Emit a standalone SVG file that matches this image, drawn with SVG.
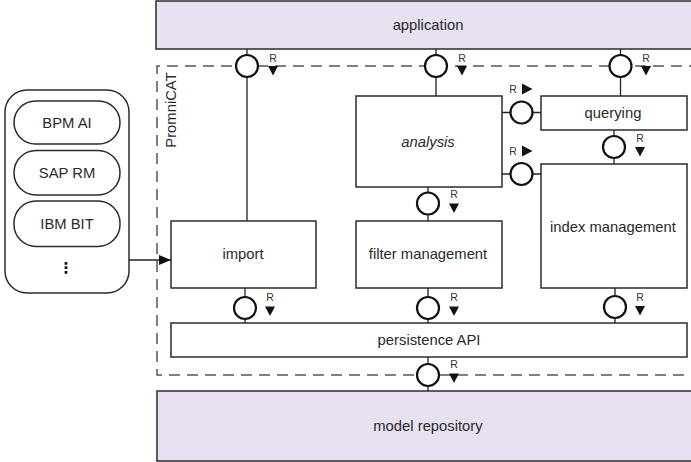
<svg xmlns="http://www.w3.org/2000/svg" xmlns:xlink="http://www.w3.org/1999/xlink" width="691" height="462" viewBox="0 0 691 462">
  <style>
    .box { fill: #ffffff; stroke: #2b2b2b; stroke-width: 1.5; }
    .ext { fill: #e6e0f0; stroke: #2b2b2b; stroke-width: 1.5; }
    .lbl { font-family: "Liberation Sans", Arial, sans-serif; font-size: 14.8px; fill: #2a2a2a; text-anchor: middle; dominant-baseline: central; }
    .r { font-family: "Liberation Sans", Arial, sans-serif; font-size: 10.5px; fill: #333333; text-anchor: middle; dominant-baseline: central; }
    .wire { stroke: #222222; stroke-width: 1.3; fill: none; }
    .port { fill: #ffffff; stroke: #111111; stroke-width: 2.2; }
    .tri { fill: #111111; }
    .frame { fill: none; stroke: #555555; stroke-width: 1.5; stroke-dasharray: 11 7; }
  </style>
  <defs>
    <polygon id="tdown" class="tri" points="-5,-4.5 5,-4.5 0,5"/>
    <polygon id="tright" class="tri" points="-5,-5.5 -5,5.5 5.5,0"/>
    <marker id="arrow" viewBox="0 0 12 10" refX="12" refY="5" markerWidth="12" markerHeight="10" markerUnits="userSpaceOnUse" orient="auto">
      <path d="M0,0 L12,5 L0,10 Z" fill="#111111"/>
    </marker>
  </defs>

  <!-- outer systems -->
  <g id="application">
    <rect class="ext" x="156" y="1" width="545" height="48"/>
    <text class="lbl" x="428" y="25">application</text>
  </g>
  <g id="model-repository">
    <rect class="ext" x="157" y="391" width="545" height="70"/>
    <text class="lbl" x="428" y="426">model repository</text>
  </g>

  <!-- PromniCAT boundary -->
  <g id="promnicat">
    <path class="frame" d="M700,66 H157 V375 H700"/>
    <text class="lbl" transform="translate(171,110) rotate(-90)">PromniCAT</text>
  </g>

  <!-- source tools -->
  <g id="sources">
    <rect class="box" x="5" y="90" width="124" height="203" rx="22" ry="22"/>
    <g id="bpm-ai">
      <rect class="box" x="14" y="101" width="106" height="43" rx="21.5" ry="21.5"/>
      <text class="lbl" x="67" y="122.5">BPM AI</text>
    </g>
    <g id="sap-rm">
      <rect class="box" x="14" y="150.5" width="106" height="44.5" rx="22" ry="22"/>
      <text class="lbl" x="67" y="173">SAP RM</text>
    </g>
    <g id="ibm-bit">
      <rect class="box" x="14" y="201" width="106" height="45.5" rx="22" ry="22"/>
      <text class="lbl" x="67" y="224">IBM BIT</text>
    </g>
    <text x="66" y="268" font-family="DejaVu Sans, sans-serif" font-size="15" font-weight="bold" fill="#111111" text-anchor="middle" dominant-baseline="central">⋮</text>
  </g>

  <!-- components -->
  <g id="import">
    <rect class="box" x="171" y="221" width="145" height="67"/>
    <text class="lbl" x="243" y="254">import</text>
  </g>
  <g id="analysis">
    <rect class="box" x="356" y="96" width="146" height="91"/>
    <text class="lbl" x="428" y="141.5" font-style="italic">analysis</text>
  </g>
  <g id="filter-management">
    <rect class="box" x="356" y="221" width="146" height="67"/>
    <text class="lbl" x="428" y="254">filter management</text>
  </g>
  <g id="querying">
    <rect class="box" x="541" y="96" width="146" height="34"/>
    <text class="lbl" x="613" y="112.5">querying</text>
  </g>
  <g id="index-management">
    <rect class="box" x="541" y="164" width="146" height="124"/>
    <text class="lbl" x="613" y="226.5">index management</text>
  </g>
  <g id="persistence-api">
    <rect class="box" x="171" y="323" width="516" height="34"/>
    <text class="lbl" x="429" y="340">persistence API</text>
  </g>

  <!-- connectors: required interfaces (ball + R arrow) -->
  <g id="connectors">
    <!-- sources to import -->
    <line class="wire" x1="129" y1="260" x2="171" y2="260" marker-end="url(#arrow)"/>

    <!-- application to import / analysis / querying -->
    <line class="wire" x1="247" y1="49" x2="247" y2="221"/>
    <circle class="port" cx="247" cy="66" r="11"/>
    <text class="r" x="273" y="57.5">R</text>
    <use xlink:href="#tdown" x="273" y="70.5"/>

    <line class="wire" x1="436" y1="49" x2="436" y2="96"/>
    <circle class="port" cx="436" cy="66" r="11"/>
    <text class="r" x="462" y="57.5">R</text>
    <use xlink:href="#tdown" x="462" y="70.5"/>

    <line class="wire" x1="620.5" y1="49" x2="620.5" y2="96"/>
    <circle class="port" cx="620.5" cy="66" r="11"/>
    <text class="r" x="646" y="57.5">R</text>
    <use xlink:href="#tdown" x="646" y="70.5"/>

    <!-- analysis to querying / index management -->
    <line class="wire" x1="502" y1="112.5" x2="541" y2="112.5"/>
    <circle class="port" cx="521.5" cy="112.5" r="11"/>
    <text class="r" x="513" y="88.5">R</text>
    <use xlink:href="#tright" x="527" y="89"/>

    <line class="wire" x1="502" y1="174" x2="541" y2="174"/>
    <circle class="port" cx="521.5" cy="174" r="11"/>
    <text class="r" x="513" y="150.5">R</text>
    <use xlink:href="#tright" x="527" y="151"/>

    <!-- querying to index management -->
    <line class="wire" x1="614" y1="130" x2="614" y2="164"/>
    <circle class="port" cx="614" cy="147" r="11"/>
    <text class="r" x="640" y="137.5">R</text>
    <use xlink:href="#tdown" x="640" y="151.5"/>

    <!-- analysis to filter management -->
    <line class="wire" x1="428" y1="187" x2="428" y2="221"/>
    <circle class="port" cx="428" cy="203.5" r="11"/>
    <text class="r" x="454" y="194">R</text>
    <use xlink:href="#tdown" x="454" y="208"/>

    <!-- components to persistence API -->
    <line class="wire" x1="245" y1="288" x2="245" y2="323"/>
    <circle class="port" cx="245" cy="308" r="11"/>
    <text class="r" x="270" y="297">R</text>
    <use xlink:href="#tdown" x="270" y="311"/>

    <line class="wire" x1="428" y1="288" x2="428" y2="323"/>
    <circle class="port" cx="428" cy="308" r="11"/>
    <text class="r" x="454" y="297">R</text>
    <use xlink:href="#tdown" x="454" y="311"/>

    <line class="wire" x1="615" y1="288" x2="615" y2="323"/>
    <circle class="port" cx="615" cy="307" r="11"/>
    <text class="r" x="640" y="296.5">R</text>
    <use xlink:href="#tdown" x="640" y="310.5"/>

    <!-- persistence API to model repository -->
    <line class="wire" x1="428" y1="357" x2="428" y2="391"/>
    <circle class="port" cx="428" cy="375" r="11"/>
    <text class="r" x="454" y="364">R</text>
    <use xlink:href="#tdown" x="454" y="378"/>
  </g>
</svg>
